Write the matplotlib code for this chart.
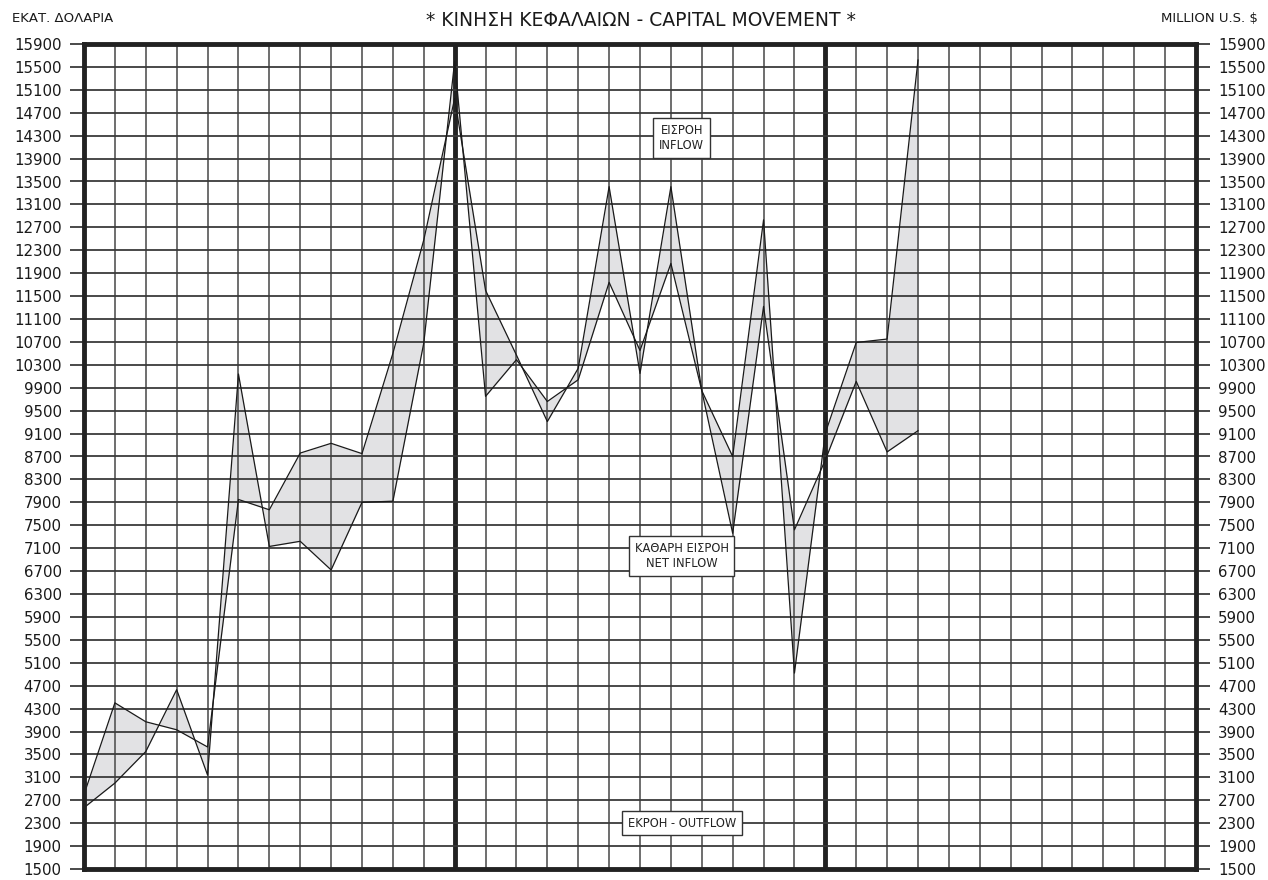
import numpy as np
import matplotlib.pyplot as plt

plt.rcParams["font.family"] = ["DejaVu Sans"]

# =========================================================
# Data (million U.S. $), one point per grid column
# =========================================================

periods = list(range(28))
inflow = [2800, 4400, 4070, 3930, 3630, 7950, 7770, 8760, 8930, 8750,
          10500, 12480, 14950, 11600, 10470, 9310, 10240, 13410, 10150, 13410,
          9850, 8700, 12830, 4920, 9110, 10690, 10750, 15620]
net_inflow = [2570, 3000, 3550, 4630, 3140, 10140, 7130, 7220, 6720, 7900,
              7920, 10680, 15600, 9750, 10390, 9660, 10040, 11740, 10550, 12070,
              9850, 7360, 11320, 7420, 8640, 10010, 8780, 9150]

y_ticks = list(range(1500, 15901, 400))
n_columns = 36

# =========================================================
# Figure
# =========================================================

fig = plt.figure(figsize=(12.68, 8.8), dpi=100)
ax = fig.add_axes([84 / 1268, 11 / 880, 1112 / 1268, 825 / 880])
ax.set_xlim(0, n_columns)
ax.set_ylim(y_ticks[0], y_ticks[-1])

# grid
for i in range(1, n_columns):
    if i % 12 == 0:
        ax.axvline(i, color="#222222", lw=3.5, zorder=1)
    else:
        ax.axvline(i, color="#555555", lw=1.2, zorder=1)
for y in y_ticks[1:-1]:
    ax.axhline(y, color="#3a3a3a", lw=1.3, zorder=1)

# shaded band and lines
ax.fill_between(periods, inflow, net_inflow, color="#e2e2e4", lw=0, zorder=0.5)
ax.plot(periods, inflow, color="#1a1a1a", lw=0.9, zorder=3)
ax.plot(periods, net_inflow, color="#1a1a1a", lw=0.9, zorder=3)

for side in ["left", "right", "top", "bottom"]:
    ax.spines[side].set_color("#222222")
    ax.spines[side].set_linewidth(3.5)
    ax.spines[side].set_zorder(4)

ax.set_xticks([])
ax.set_yticks(y_ticks)
ax.tick_params(axis="y", left=True, right=True, labelleft=True, labelright=True,
               length=10, width=1.3, color="#3a3a3a", pad=6,
               labelsize=10.8, labelcolor="#1a1a1a")

# labels in the plot
box = dict(boxstyle="square,pad=0.5", fc="white", ec="#333333", lw=1)
ax.text(19.35, 14260, "ΕΙΣΡΟΗ\nINFLOW", ha="center", va="center",
        fontsize=8.3, color="#222222", bbox=box, zorder=6, linespacing=1.2)
ax.text(19.35, 6966, "ΚΑΘΑΡΗ ΕΙΣΡΟΗ\nNET INFLOW", ha="center", va="center",
        fontsize=8.3, color="#222222", bbox=box, zorder=6, linespacing=1.2)
ax.text(19.35, 2300, "ΕΚΡΟΗ - OUTFLOW", ha="center", va="center",
        fontsize=8.3, color="#222222", bbox=box, zorder=6)

# header
fig.text(641 / 1268, 1 - 20 / 880, "* ΚΙΝΗΣΗ ΚΕΦΑΛΑΙΩΝ - CAPITAL MOVEMENT *",
         ha="center", va="center", fontsize=13.5, color="#1a1a1a")
fig.text(12 / 1268, 1 - 19 / 880, "ΕΚΑΤ. ΔΟΛΑΡΙΑ", ha="left", va="center",
         fontsize=9.5, color="#1a1a1a")
fig.text(1258 / 1268, 1 - 19 / 880, "MILLION U.S. $", ha="right", va="center",
         fontsize=9.5, color="#1a1a1a")

fig.savefig("out.png", dpi=100, facecolor="white")
